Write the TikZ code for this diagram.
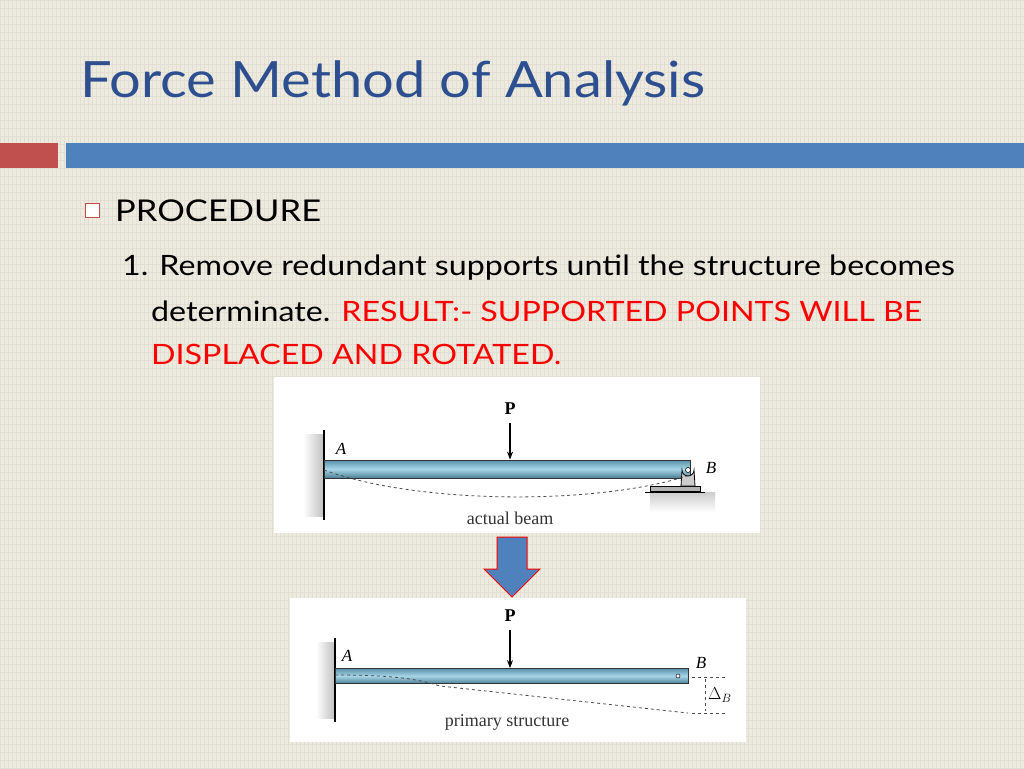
\documentclass[tikz,border=0pt]{standalone}
\usepackage{fontspec}
\setmainfont{Lato}
\newfontfamily\bodyfont[FakeStretch=1.15]{Lato}
\newfontfamily\titlefont[FakeStretch=1.12]{Lato}
\newfontfamily\figfont{Liberation Serif}
\usepackage{tikz}
\usetikzlibrary{arrows.meta, positioning, calc}

\definecolor{paper}{HTML}{EDEADF}
\definecolor{gridline}{HTML}{E2DFD2}
\definecolor{titleblue}{HTML}{2E4F8F}
\definecolor{barblue}{HTML}{4F81BD}
\definecolor{barred}{HTML}{C0504D}
\definecolor{steel}{HTML}{6DB8D6}

\begin{document}
\begin{tikzpicture}[x=1pt, y=-1pt,
    beam/.style={draw=black!80, line width=0.8pt, top color=steel!80!black, bottom color=steel!70!black, middle color=steel!60},
    wall/.style={line width=1.2pt},
    load/.style={-{Stealth[length=8pt]}, line width=1.3pt},
    deflect/.style={dashed, line width=0.8pt, black!70},
    lbl/.style={font=\fontsize{17}{19}\selectfont\figfont\itshape, inner sep=0pt},
    figcap/.style={font=\fontsize{18}{20}\selectfont\figfont, inner sep=0pt, text=black!80},
    body/.style={anchor=west, inner sep=0pt, font=\fontsize{28}{30}\selectfont\bodyfont}]
        \useasboundingbox (0,0) rectangle (1024,768);
        \fill[paper] (0,0) rectangle (1024,768);
        \foreach \i in {0,4,...,1024} \draw[gridline, line width=0.6pt] (\i,0) -- (\i,768);
        \foreach \j in {0,8,...,768} \draw[gridline, line width=0.4pt] (0,\j) -- (1024,\j);

        % title and bars
        \node[anchor=west, inner sep=0pt, text=titleblue, font=\fontsize{50}{54}\selectfont\titlefont] (title) at (80,83) {Force Method of Analysis};
        \fill[barred] (0,143) rectangle (58,168);
        \fill[barblue] (66,143) rectangle (1024,168);

        % text
        \draw[barred, line width=0.8pt, fill=white] (85,203) rectangle (99,217);
        \node[body, font=\fontsize{30}{34}\selectfont\bodyfont] (proc) at (115,211) {PROCEDURE};
        \node[body] (step1) at (122,268) {1. Remove redundant supports until the structure becomes};
        \node[body] (det) at (151,311) {determinate. \textcolor{red}{RESULT:- SUPPORTED POINTS WILL BE}};
        \node[body, text=red] (disp) at (151,354) {DISPLACED AND ROTATED.};

        % actual beam
        \fill[white] (274,377) rectangle (760,533);
        \shade[left color=white, right color=black!25] (303,434) rectangle (324,516);
        \draw[wall] (324,430) -- (324,520);
        \node[beam, minimum width=366pt, minimum height=18pt, anchor=west, inner sep=0pt] (beamA) at (324,469) {};
        \shade[top color=black!20, bottom color=white] (650,492) rectangle (715,512);
        \draw[line width=0.8pt, fill=black!30] (650,486) rectangle (700,491);
        \draw[line width=0.8pt] (645,492) -- (705,492);
        \draw[line width=0.8pt, fill=black!20] (681,486) -- (682,470) arc (180:0:6) -- (695,486) -- cycle;
        \draw[line width=0.6pt, fill=white] (688,470) circle (2.5);
        \node[lbl] (A1) at (341,449) {A};
        \node[lbl] (B1) at (711,468) {B};
        \node[font=\bfseries\fontsize{18}{20}\selectfont\figfont] (P1) at (510,409) {P};
        \draw[load] (P1.south) ++(0,5) -- (beamA.north -| P1);
        \draw[deflect] (324,470) .. controls (420,505) and (600,505) .. (690,475);
        \node[figcap] (cap1) at (510,518) {actual beam};

        % arrow between
        \draw[red, line width=1pt, fill=barblue] (497,537) -- (527,537) -- (527,569) -- (540,569) -- (512,597) -- (484,569) -- (497,569) -- cycle;

        % primary structure
        \fill[white] (290,598) rectangle (746,742);
        \shade[left color=white, right color=black!25] (316,642) rectangle (335,718);
        \draw[wall] (335,638) -- (335,722);
        \node[beam, minimum width=353pt, minimum height=15pt, anchor=west, inner sep=0pt] (beamB) at (335,676) {};
        \draw[line width=0.5pt, fill=white] (678,676) circle (2);
        \node[lbl] (A2) at (347,656) {A};
        \node[lbl] (B2) at (701,663) {B};
        \node[font=\bfseries\fontsize{18}{20}\selectfont\figfont] (P2) at (510,616) {P};
        \draw[load] (P2.south) ++(0,5) -- (beamB.north -| P2);
        \draw[deflect] (335,675) .. controls (400,675) and (420,680) .. (440,686) -- (688,713);
        \draw[deflect] (692,677) -- (725,677);
        \draw[deflect] (692,713) -- (725,713);
        \draw[deflect] (705,679) -- (705,711);
        \node[lbl, anchor=west] (dB) at (708,695) {$\Delta_B$};
        \node[figcap] (cap2) at (507,722) {primary structure};
\end{tikzpicture}
\end{document}
